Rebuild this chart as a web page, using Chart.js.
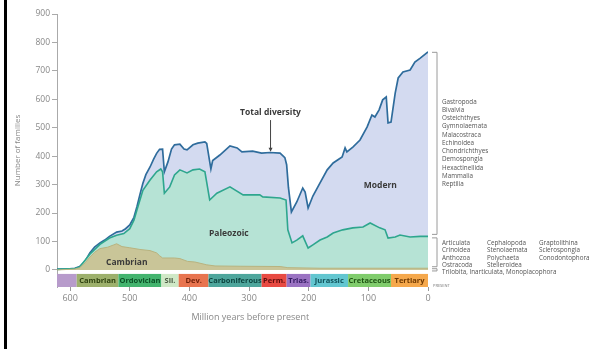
<!DOCTYPE html>
<html>
<head>
<meta charset="utf-8">
<script src="https://cdn.jsdelivr.net/npm/chart.js@4/dist/chart.umd.min.js"></script>
<style>
  html, body { margin: 0; padding: 0; background: #fff; }
  #wrap { width: 592px; height: 349px; position: relative; }
</style>
</head>
<body>
<div id="wrap"><canvas id="c" width="592" height="349"></canvas></div>
<script>
// Marine families through the Phanerozoic, split into three evolutionary faunas.
// Ages are millions of years before present; values are numbers of families.

// Total diversity (all faunas)
const totalAge = [622, 601, 592, 584, 575, 567, 559, 550, 542, 534, 522, 513, 507, 500, 493, 488, 483, 478, 473, 466, 460, 455, 450, 445, 442, 436, 430, 425, 416, 409, 404, 394, 386, 374, 371, 364, 361, 349, 332, 320, 312, 294, 279, 265, 248, 240, 237, 234, 229, 220, 210, 206, 201, 193, 181, 169, 159, 144, 139, 136, 126, 114, 102, 94, 89, 82, 76, 70, 67, 62, 55, 50, 42, 30, 22, 13, 0];
const totalFamilies = [3, 4, 6, 12, 30, 60, 80, 95, 105, 118, 133, 137, 145, 158, 185, 222, 265, 305, 335, 362, 390, 410, 424, 425, 345, 380, 425, 440, 442, 425, 422, 440, 446, 450, 445, 355, 385, 404, 436, 429, 415, 418, 411, 413, 411, 395, 370, 290, 204, 239, 288, 274, 218, 260, 306, 352, 376, 397, 429, 415, 432, 457, 503, 545, 538, 563, 598, 608, 517, 520, 622, 675, 696, 703, 731, 745, 767];

// Upper edge of the Paleozoic fauna (Cambrian + Paleozoic faunas)
const paleozoicAge = [622, 592, 584, 567, 550, 534, 522, 510, 500, 493, 488, 478, 466, 455, 448, 445, 442, 433, 425, 416, 404, 394, 383, 374, 366, 354, 332, 310, 282, 277, 248, 238, 235, 228, 220, 210, 201, 193, 181, 169, 159, 143, 126, 109, 97, 81, 72, 67, 55, 47, 30, 13, 0];
const paleozoicTop = [2, 5, 10, 55, 90, 112, 122, 128, 145, 175, 211, 280, 316, 345, 355, 345, 270, 292, 334, 352, 341, 352, 355, 345, 246, 270, 292, 264, 264, 257, 253, 246, 141, 95, 105, 120, 77, 88, 105, 116, 130, 141, 148, 151, 165, 148, 141, 112, 116, 123, 116, 118, 118];

// Cambrian fauna
const cambrianAge = [622, 592, 584, 575, 567, 559, 550, 537, 527, 522, 513, 500, 483, 466, 455, 450, 445, 425, 416, 403, 391, 371, 357, 315, 248, 235, 181, 0];
const cambrianFamilies = [0, 3, 8, 25, 45, 62, 75, 80, 88, 92, 82, 78, 72, 68, 60, 50, 42, 42, 40, 30, 28, 18, 14, 13, 12, 8, 6, 6];

// Axis ticks
const yTickValues = [0, 100, 200, 300, 400, 500, 600, 700, 800, 900];
const xTickValues = [600, 500, 400, 300, 200, 100, 0];

// Geological periods along the time bar
const periodNames = ['', 'Cambrian', 'Ordovician', 'Sil.', 'Dev.', 'Carboniferous', 'Perm.', 'Trias.', 'Jurassic', 'Cretaceous', 'Tertiary'];
const periodStart = [622, 589, 519, 447, 418, 368, 279, 237, 197, 134, 62];
const periodEnd   = [589, 519, 447, 418, 368, 279, 237, 197, 134, 62, 0];

// Dominant classes of each fauna
const modernClasses = ['Gastropoda', 'Bivalvia', 'Osteichthyes', 'Gymnolaemata', 'Malacostraca', 'Echinoidea', 'Chondrichthyes', 'Demospongia', 'Hexactinellida', 'Mammalia', 'Reptilia'];
const paleozoicClasses = [
  ['Articulata', 'Crinoidea', 'Anthozoa', 'Ostracoda'],
  ['Cephalopoda', 'Stenolaemata', 'Polychaeta', 'Stelleroidea'],
  ['Graptolithina', 'Sclerospongia', 'Conodontophora']
];
const cambrianClasses = ['Trilobita, Inarticulata, Monoplacophora'];

// ---- styling ----
const FONT = '"Open Sans", "Noto Sans", sans-serif';
const periodFill = ['#b79bcb', '#9db06c', '#43b46e', '#cfe8c6', '#e8744f', '#4ea69c', '#e84a42', '#9a72c2', '#62c6d0', '#80cc6c', '#f5a84c'];
const periodText = ['#000', '#2f4210', '#0a4f25', '#4a5a44', '#6e1f08', '#0d4540', '#5e0c0c', '#321a60', '#0f5159', '#1f5414', '#6e3800'];

const toXY = (ages, vals) => ages.map((a, i) => ({ x: a, y: vals[i] }));
const last = arr => arr[arr.length - 1];

const decorPlugin = {
  id: 'decor',
  afterDatasetsDraw(chart) {
    const { ctx, chartArea, scales } = chart;
    const xs = scales.x, ys = scales.y;
    ctx.save();

    // time bar of geological periods
    const barTop = ys.getPixelForValue(-14);
    const barBot = chartArea.bottom;
    periodNames.forEach((name, i) => {
      const x0 = xs.getPixelForValue(periodStart[i]);
      const x1 = xs.getPixelForValue(periodEnd[i]);
      ctx.fillStyle = periodFill[i];
      ctx.fillRect(x0, barTop, x1 - x0, barBot - barTop);
      if (name) {
        ctx.fillStyle = periodText[i];
        ctx.font = 'bold 7.5px ' + FONT;
        ctx.textAlign = 'center';
        ctx.textBaseline = 'middle';
        ctx.fillText(name, (x0 + x1) / 2, (barTop + barBot) / 2 + 0.5);
      }
    });

    // fauna labels inside the areas
    ctx.fillStyle = '#3a3a3a';
    ctx.font = 'bold 8.5px ' + FONT;
    ctx.textAlign = 'center';
    ctx.textBaseline = 'middle';
    ctx.fillText('Modern', xs.getPixelForValue(80), ys.getPixelForValue(295));
    ctx.fillText('Paleozoic', xs.getPixelForValue(334), ys.getPixelForValue(127));
    ctx.fillText('Cambrian', xs.getPixelForValue(505), ys.getPixelForValue(25));

    // total diversity callout with arrow
    const ax = xs.getPixelForValue(264);
    ctx.fillText('Total diversity', ax, ys.getPixelForValue(552));
    ctx.strokeStyle = '#444';
    ctx.lineWidth = 1;
    ctx.beginPath();
    ctx.moveTo(ax, ys.getPixelForValue(527));
    ctx.lineTo(ax, ys.getPixelForValue(420));
    ctx.stroke();
    const tip = ys.getPixelForValue(416);
    ctx.fillStyle = '#444';
    ctx.beginPath();
    ctx.moveTo(ax, tip);
    ctx.lineTo(ax - 2, tip - 4);
    ctx.lineTo(ax + 2, tip - 4);
    ctx.closePath();
    ctx.fill();
    ctx.restore();
  },
  afterDraw(chart) {
    const { ctx, chartArea, scales } = chart;
    const xs = scales.x, ys = scales.y;
    ctx.save();

    // black rule down the left edge
    ctx.fillStyle = '#000';
    ctx.fillRect(4, 0, 3, chart.height);

    // x-axis title
    ctx.fillStyle = '#888';
    ctx.font = '9px ' + FONT;
    ctx.textAlign = 'center';
    ctx.textBaseline = 'middle';
    ctx.fillText('Million years before present', xs.getPixelForValue(298), chartArea.bottom + 30);

    // brackets for the three faunas at the present day
    const bx = chartArea.right + 9;
    ctx.strokeStyle = '#9a9a9a';
    ctx.lineWidth = 1;
    const bracket = (top, bottom) => {
      ctx.beginPath();
      ctx.moveTo(bx - 5, top);
      ctx.lineTo(bx, top);
      ctx.lineTo(bx, bottom);
      ctx.lineTo(bx - 5, bottom);
      ctx.stroke();
    };
    const yTotal = ys.getPixelForValue(last(totalFamilies));
    const yPal = ys.getPixelForValue(last(paleozoicTop));
    const yCam = ys.getPixelForValue(last(cambrianFamilies));
    const y0 = ys.getPixelForValue(0);
    bracket(yTotal + 0.5, yPal - 2);
    bracket(yPal + 1.5, yCam - 1.5);
    bracket(yCam + 0.5, y0 + 1);

    ctx.fillStyle = '#555';
    ctx.font = '6.3px ' + FONT;
    ctx.textAlign = 'left';
    ctx.textBaseline = 'middle';
    const tx = bx + 5;

    // Modern fauna list
    const mStep = 8.27;
    const mMid = (yTotal + yPal) / 2 - 1;
    modernClasses.forEach((name, i) => {
      ctx.fillText(name, tx, mMid + (i - (modernClasses.length - 1) / 2) * mStep);
    });

    // Paleozoic fauna list in three columns
    const pStep = 7.3;
    const pMid = (yPal + yCam) / 2 + 2;
    const colX = [tx, tx + 45, tx + 97];
    paleozoicClasses.forEach((col, c) => {
      col.forEach((name, r) => {
        ctx.fillText(name, colX[c], pMid + (r - 1.5) * pStep);
      });
    });

    // Cambrian fauna
    ctx.fillText(cambrianClasses[0], tx, (yCam + y0) / 2 + 3.5);

    // present-day marker
    ctx.font = '4px ' + FONT;
    ctx.fillStyle = '#777';
    ctx.fillText('PRESENT', chartArea.right + 5, chartArea.bottom - 1);
    ctx.restore();
  }
};

new Chart(document.getElementById('c'), {
  type: 'line',
  data: {
    datasets: [
      {
        label: 'Cambrian',
        data: toXY(cambrianAge, cambrianFamilies),
        borderColor: '#b8b37f',
        backgroundColor: '#c9c598',
        borderWidth: 1,
        fill: 'origin'
      },
      {
        label: 'Paleozoic',
        data: toXY(paleozoicAge, paleozoicTop),
        borderColor: '#2ea68e',
        backgroundColor: '#b6e3d5',
        borderWidth: 1.6,
        fill: 'origin'
      },
      {
        label: 'Total diversity',
        data: toXY(totalAge, totalFamilies),
        borderColor: '#2f6c9c',
        backgroundColor: '#d3daf0',
        borderWidth: 1.7,
        fill: 'origin'
      }
    ]
  },
  options: {
    responsive: false,
    animation: false,
    devicePixelRatio: 1,
    elements: { point: { radius: 0 }, line: { tension: 0 } },
    layout: { padding: { left: 0, right: 164, top: 14, bottom: 0 } },
    plugins: { legend: { display: false }, tooltip: { enabled: false } },
    scales: {
      x: {
        type: 'linear',
        reverse: true,
        min: 0,
        max: 622,
        afterBuildTicks: s => { s.ticks = xTickValues.map(v => ({ value: v })); },
        afterFit: s => { s.height = 62; },
        ticks: { color: '#888', font: { family: FONT, size: 9 }, padding: 2, maxRotation: 0, autoSkip: false },
        grid: { drawOnChartArea: false, tickLength: 4, color: '#999' },
        border: { display: false }
      },
      y: {
        min: -60,
        max: 900,
        afterBuildTicks: s => { s.ticks = yTickValues.map(v => ({ value: v })); },
        afterFit: s => { s.width = 57; },
        ticks: { color: '#888', font: { family: FONT, size: 8.5 }, padding: 2 },
        grid: { drawOnChartArea: false, tickLength: 5, color: '#aaa' },
        border: { color: '#aaa', width: 1 },
        title: { display: true, text: 'Number of families', color: '#888', font: { family: FONT, size: 8 }, padding: { top: 13, bottom: 0 } }
      }
    }
  },
  plugins: [decorPlugin]
});
</script>
</body>
</html>
